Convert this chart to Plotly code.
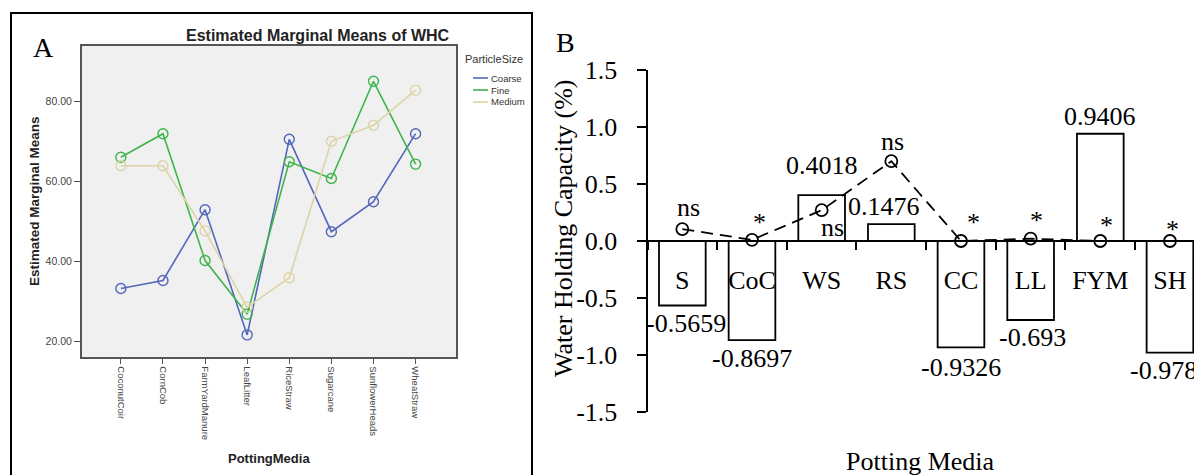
import plotly.graph_objects as go

# ---------------- data ----------------
media = ["CoconutCoir", "CornCob", "FarmYardManure", "LeafLitter",
         "RiceStraw", "Sugarcane", "SunflowerHeads", "WheatStraw"]
coarse = [33.3, 35.3, 53.0, 21.7, 70.6, 47.5, 55.0, 72.0]
fine = [66.1, 72.0, 40.3, 26.9, 65.0, 60.8, 85.1, 64.4]
medium = [64.0, 64.0, 47.7, 28.6, 36.0, 70.1, 74.1, 82.9]
size_names = ["Coarse", "Fine", "Medium"]
a_tickvals = [20, 40, 60, 80]
a_ticktext = ["20.00", "40.00", "60.00", "80.00"]

codes = ["S", "CoC", "WS", "RS", "CC", "LL", "FYM", "SH"]
whc_change = [-0.5659, -0.8697, 0.4018, 0.1476, -0.9326, -0.693, 0.9406, -0.9785]
sig_points = [0.105, 0.01, 0.27, 0.70, 0.0, 0.02, 0.0, 0.0]
sig_labels = ["ns", "*", "ns", "ns", "*", "*", "*", "*"]
b_tickvals = [-1.5, -1.0, -0.5, 0.0, 0.5, 1.0, 1.5]
b_ticktext = ["-1.5", "-1.0", "-0.5", "0.0", "0.5", "1.0", "1.5"]

# ---------------- layout constants ----------------
W, H = 1194, 475
SANS = "Liberation Sans, Arial, sans-serif"
SERIF = "Liberation Serif, Times New Roman, serif"
colors = ["#5467bb", "#3db54c", "#ddd4a6"]


def px(x):
    return x / W


def py(y):
    return 1 - y / H


def label(x, y, text, size, family, color="black", angle=0, xanchor="center"):
    return dict(x=px(x), y=py(y), xref="paper", yref="paper", text=text,
                showarrow=False, textangle=angle, xanchor=xanchor, yanchor="middle",
                font=dict(family=family, size=size, color=color))


fig = go.Figure()

# ---------- Panel A ----------
for name, vals, col in zip(size_names, [coarse, fine, medium], colors):
    fig.add_trace(go.Scatter(
        x=media, y=vals, mode="lines+markers", name=name,
        line=dict(color=col, width=1.6),
        marker=dict(symbol="circle-open", size=10, color=col, line=dict(width=1.4)),
        xaxis="x", yaxis="y", showlegend=False, cliponaxis=False))

# ---------- Panel B ----------
fig.add_trace(go.Bar(
    x=codes, y=whc_change, xaxis="x2", yaxis="y2", width=0.67,
    marker=dict(color="white", line=dict(color="black", width=1.8)),
    showlegend=False))
fig.add_trace(go.Scatter(
    x=codes, y=sig_points, xaxis="x2", yaxis="y2", mode="lines+markers",
    line=dict(color="black", width=1.8, dash="12px,7px"),
    marker=dict(symbol="circle-open", size=12, color="black", line=dict(width=1.8)),
    showlegend=False, cliponaxis=False))

annotations = []
# value labels on bars (offsets in pixels from the bar end)
value_shift = [(4, -18), (0, -18), (0, 30), (-7, 18), (0, -20), (2, -17), (0, 17), (0, -18)]
for c, v, (dx, dy) in zip(codes, whc_change, value_shift):
    annotations.append(dict(
        x=c, y=v, xref="x2", yref="y2", text=str(v), showarrow=False,
        xanchor="center", yanchor="middle", xshift=dx, yshift=dy,
        font=dict(family=SERIF, size=26, color="black")))
# significance labels
sig_shift = [(6, 22), (8, 17), (11, -17), (1, 20), (13, 19), (6, 18), (6, 16), (3, 12)]
for c, v, s, (dx, dy) in zip(codes, sig_points, sig_labels, sig_shift):
    annotations.append(dict(
        x=c, y=v, xref="x2", yref="y2", text=s, showarrow=False,
        xanchor="center", yanchor="middle", xshift=dx, yshift=dy,
        font=dict(family=SERIF, size=26, color="black")))

# panel letters, titles
annotations += [
    label(43, 47, "A", 28, SERIF),
    label(565, 42, "B", 28, SERIF),
    label(318, 35, "<b>Estimated Marginal Means of WHC</b>", 16, SANS, "#222"),
    label(34, 201, "<b>Estimated Marginal Means</b>", 13.5, SANS, "#222", angle=-90),
    label(269, 458, "<b>PottingMedia</b>", 13, SANS, "#222"),
    label(563, 228, "Water Holding Capacity (%)", 26, SERIF, angle=-90),
    label(920, 461, "Potting Media", 26, SERIF),
    label(463, 59, "ParticleSize", 11, SANS, "#333", xanchor="left"),
]

shapes = [
    # panel A frame
    dict(type="rect", xref="paper", yref="paper", x0=px(11), x1=px(532),
         y0=-0.1, y1=py(13), line=dict(color="black", width=2), layer="above"),
    # panel A plot background
    dict(type="rect", xref="x domain", yref="y domain", x0=0, x1=1, y0=0, y1=1,
         fillcolor="#f0f0f0", line=dict(width=0), layer="below"),
]
# manual legend for panel A
legend_y = [78, 90, 102]
for name, col, ly in zip(size_names, colors, legend_y):
    shapes.append(dict(type="line", xref="paper", yref="paper",
                       x0=px(473), x1=px(488), y0=py(ly), y1=py(ly),
                       line=dict(color=col, width=1.6)))
    annotations.append(label(489, ly, name, 9.5, SANS, "#333", xanchor="left"))

fig.update_layout(
    template="none",
    width=W, height=H,
    margin=dict(l=0, r=0, t=0, b=0, pad=0),
    paper_bgcolor="white", plot_bgcolor="rgba(0,0,0,0)",
    showlegend=False,
    annotations=annotations, shapes=shapes,
    xaxis=dict(domain=[px(81.7), px(456)], type="category", range=[-0.93, 7.96],
               anchor="y", showline=True, mirror=True, linecolor="#555", linewidth=1.5,
               ticks="outside", ticklen=6, tickcolor="#555", tickangle=90,
               tickfont=dict(family=SANS, size=9.5, color="#444"),
               showgrid=False, zeroline=False, automargin=False),
    yaxis=dict(domain=[py(356.7), py(45.5)], range=[16.25, 94.05], anchor="x",
               tickvals=a_tickvals, ticktext=a_ticktext,
               showline=True, mirror=True, linecolor="#555", linewidth=1.5,
               ticks="outside", ticklen=6, tickcolor="#555",
               tickfont=dict(family=SANS, size=10.5, color="#444"),
               showgrid=False, zeroline=False, automargin=False),
    xaxis2=dict(domain=[px(647.5), 1.0], type="category", range=[-0.5, 7.345],
                anchor="free", position=py(241), tickson="boundaries",
                showline=True, linecolor="black", linewidth=2,
                ticks="outside", ticklen=8, tickwidth=2, tickcolor="black",
                ticklabelstandoff=16,
                tickfont=dict(family=SERIF, size=26, color="black"),
                showgrid=False, zeroline=False, automargin=False),
    yaxis2=dict(domain=[py(412), py(70)], range=[-1.5, 1.5], anchor="x2",
                tickvals=b_tickvals, ticktext=b_ticktext,
                showline=True, linecolor="black", linewidth=2,
                ticks="outside", ticklen=9, tickwidth=2, tickcolor="black",
                ticklabelstandoff=14,
                tickfont=dict(family=SERIF, size=26, color="black"),
                showgrid=False, zeroline=False, automargin=False),
)

fig.write_html("out.html",
               config={"displayModeBar": False},
               post_script="document.body.style.margin='0';"
                           "document.body.style.overflow='hidden';")
